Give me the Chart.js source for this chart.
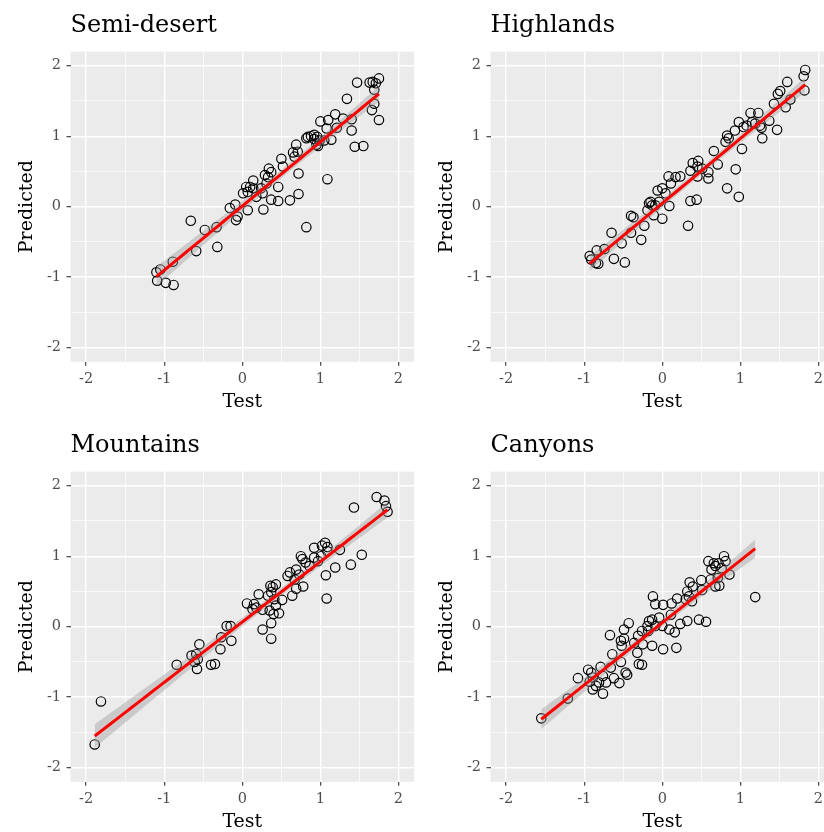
<!DOCTYPE html>
<html>
<head>
<meta charset="utf-8">
<script src="https://cdn.jsdelivr.net/npm/chart.js@4.4.1/dist/chart.umd.min.js"></script>
<style>
  html, body { margin: 0; padding: 0; background: #ffffff; }
  body { width: 824px; height: 832px; overflow: hidden; position: relative; }
  .panel { position: absolute; width: 420px; height: 420px; }
</style>
</head>
<body>
<div class="panel" style="left:0;top:0"><canvas id="c1" width="420" height="420"></canvas></div>
<div class="panel" style="left:420px;top:0"><canvas id="c2" width="420" height="420"></canvas></div>
<div class="panel" style="left:0;top:420px"><canvas id="c3" width="420" height="420"></canvas></div>
<div class="panel" style="left:420px;top:420px"><canvas id="c4" width="420" height="420"></canvas></div>
<script>
// values: Test (x) and Predicted (y) per region
const semiDesertTest = [1.75, 1.63, 1.67, 1.71, 1.47, 1.69, 1.69, 1.66, 1.75, 1.34, 1.44, 1.55, 1.40, 1.40, 1.29, 1.19, 1.10, 1.00, 1.21, 1.08,
    1.14, 1.05, 1.09, 0.84, 0.88, 0.92, 0.96, 0.99, 0.95, 0.92, 0.82, 0.97, 0.69, 0.65, 0.71, 0.67, 0.50, 0.52, 0.72, 0.72,
    0.61, 0.46, 0.82, 0.46, 0.37, 0.27, 0.34, 0.37, 0.33, 0.29, 0.31, 0.24, 0.26, 0.14, 0.10, 0.07, 0.05, 0.01, 0.14, 0.18,
    0.07, -0.09, -0.16, -0.06, -0.08, -0.33, -0.48, -0.66, -0.59, -0.32, -0.89, -1.10, -1.05, -1.09, -0.98, -0.88];
const semiDesertPred = [1.82, 1.76, 1.77, 1.75, 1.76, 1.66, 1.46, 1.37, 1.23, 1.53, 0.85, 0.86, 1.08, 1.24, 1.25, 1.31, 1.23, 1.21, 1.12, 1.11,
    0.95, 0.94, 0.39, 0.99, 1.00, 1.02, 0.99, 0.94, 0.88, 0.96, 0.97, 0.86, 0.88, 0.77, 0.78, 0.71, 0.68, 0.57, 0.47, 0.18,
    0.09, 0.08, -0.29, 0.28, 0.10, -0.04, 0.54, 0.49, 0.42, 0.45, 0.33, 0.26, 0.19, 0.37, 0.28, 0.21, 0.28, 0.19, 0.26, 0.14,
    -0.05, 0.03, -0.02, -0.14, -0.19, -0.29, -0.33, -0.20, -0.63, -0.57, -0.78, -0.93, -0.89, -1.05, -1.08, -1.11];

const highlandsTest = [1.83, 1.81, 1.82, 1.60, 1.51, 1.48, 1.43, 1.64, 1.58, 1.47, 1.37, 1.28, 1.23, 1.13, 1.15, 1.08, 1.04, 1.19, 1.25, 1.27,
    0.98, 0.93, 0.83, 0.85, 0.81, 1.02, 0.94, 0.98, 0.83, 0.66, 0.71, 0.59, 0.59, 0.46, 0.39, 0.45, 0.36, 0.51, 0.45, 0.23,
    0.17, 0.08, 0.11, 0.00, -0.06, 0.04, 0.09, -0.15, -0.17, -0.13, -0.09, -0.04, -0.19, -0.11, 0.00, 0.33, 0.36, 0.44, -0.40, -0.37,
    -0.23, -0.40, -0.27, -0.65, -0.52, -0.74, -0.84, -0.93, -0.91, -0.85, -0.82, -0.62, -0.48];
const highlandsPred = [1.94, 1.85, 1.65, 1.77, 1.64, 1.60, 1.46, 1.52, 1.41, 1.09, 1.22, 0.97, 1.33, 1.33, 1.20, 1.15, 1.13, 1.18, 1.15, 1.12,
    1.20, 1.08, 1.01, 0.97, 0.92, 0.82, 0.53, 0.14, 0.26, 0.79, 0.60, 0.49, 0.40, 0.65, 0.62, 0.57, 0.51, 0.54, 0.43, 0.43,
    0.42, 0.43, 0.33, 0.26, 0.23, 0.19, 0.01, 0.07, 0.05, 0.02, 0.02, 0.07, -0.05, -0.12, -0.17, -0.27, 0.08, 0.10, -0.13, -0.15,
    -0.27, -0.37, -0.47, -0.37, -0.52, -0.60, -0.62, -0.70, -0.75, -0.80, -0.81, -0.74, -0.79];

const mountainsTest = [1.72, 1.82, 1.84, 1.86, 1.43, 1.53, 1.39, 1.19, 1.25, 1.08, 1.07, 1.09, 1.06, 1.02, 1.09, 0.92, 1.01, 0.97, 0.92, 0.86,
    0.75, 0.77, 0.81, 0.69, 0.61, 0.58, 0.73, 0.67, 0.78, 0.69, 0.64, 0.51, 0.43, 0.39, 0.36, 0.37, 0.33, 0.41, 0.43, 0.47,
    0.40, 0.35, 0.21, 0.15, 0.18, 0.06, 0.13, 0.26, 0.37, 0.26, 0.37, -0.15, -0.20, -0.14, -0.27, -0.28, -0.35, -0.40, -0.55, -0.59,
    -0.57, -0.61, -0.58, -0.65, -0.84, -1.81, -1.89];
const mountainsPred = [1.84, 1.79, 1.71, 1.63, 1.69, 1.02, 0.88, 0.84, 1.09, 0.40, 0.73, 1.07, 1.19, 1.15, 1.13, 1.12, 1.00, 0.93, 0.98, 0.86,
    1.00, 0.96, 0.91, 0.81, 0.77, 0.72, 0.74, 0.67, 0.57, 0.54, 0.44, 0.38, 0.60, 0.56, 0.58, 0.49, 0.44, 0.39, 0.30, 0.19,
    0.18, 0.23, 0.46, 0.32, 0.27, 0.33, 0.25, 0.24, 0.05, -0.04, -0.17, 0.01, 0.01, -0.20, -0.15, -0.32, -0.53, -0.54, -0.25, -0.39,
    -0.46, -0.50, -0.60, -0.41, -0.54, -1.06, -1.67];

const canyonsTest = [-1.55, -1.21, -1.08, -0.95, -0.91, -0.89, -0.93, -0.89, -0.85, -0.81, -0.76, -0.76, -0.72, -0.62, -0.55, -0.45, -0.79, -0.66, -0.64, -0.53,
    -0.47, -0.52, -0.49, -0.67, -0.43, -0.49, -0.53, -0.36, -0.32, -0.30, -0.26, -0.25, -0.31, -0.26, -0.19, -0.17, -0.13, -0.18, -0.13, 0.01,
    0.18, -0.09, -0.04, 0.00, 0.09, 0.16, 0.23, 0.32, 0.47, 0.56, -0.12, -0.09, 0.01, 0.12, 0.19, 0.11, 0.34, 0.30, 0.38, 0.35,
    0.39, 0.32, 0.50, 0.51, 0.62, 0.63, 0.66, 0.68, 0.72, 0.76, 0.79, 0.81, 0.73, 0.71, 0.86, 0.68, 0.59, 1.19];
const canyonsPred = [-1.30, -1.02, -0.73, -0.61, -0.65, -0.72, -0.78, -0.89, -0.84, -0.79, -0.70, -0.95, -0.79, -0.73, -0.80, -0.68, -0.57, -0.58, -0.39, -0.50,
    -0.65, -0.27, -0.17, -0.12, 0.05, -0.04, -0.20, -0.23, -0.37, -0.53, -0.54, -0.25, -0.13, -0.06, 0.01, 0.08, 0.10, -0.06, -0.27, -0.32,
    -0.30, 0.01, 0.13, 0.01, -0.04, -0.08, 0.04, 0.08, 0.10, 0.07, 0.43, 0.32, 0.31, 0.33, 0.40, 0.17, 0.43, 0.39, 0.36, 0.63,
    0.57, 0.50, 0.66, 0.52, 0.67, 0.81, 0.90, 0.86, 0.90, 0.83, 1.00, 0.93, 0.58, 0.69, 0.74, 0.57, 0.93, 0.42];

const axisMin = -2.2;
const axisMax = 2.2;

// linear fit with 95% confidence band, like geom_smooth(method = "lm")
function fitLm(xs, ys) {
    const n = xs.length;
    const mx = xs.reduce((a, b) => a + b, 0) / n;
    const my = ys.reduce((a, b) => a + b, 0) / n;
    let sxx = 0, sxy = 0;
    for (let i = 0; i < n; i++) {
        sxx += (xs[i] - mx) * (xs[i] - mx);
        sxy += (xs[i] - mx) * (ys[i] - my);
    }
    const b = sxy / sxx;
    const a = my - b * mx;
    let sse = 0;
    for (let i = 0; i < n; i++) sse += Math.pow(ys[i] - a - b * xs[i], 2);
    const s = Math.sqrt(sse / (n - 2));
    const t = 1.96 + 2.5 / (n - 2);
    const lo = Math.min(...xs), hi = Math.max(...xs);
    const line = [], upper = [], lower = [];
    for (let k = 0; k <= 40; k++) {
        const x = lo + (hi - lo) * k / 40;
        const yhat = a + b * x;
        const se = s * Math.sqrt(1 / n + (x - mx) * (x - mx) / sxx);
        line.push({ x, y: yhat });
        upper.push({ x, y: yhat + t * se });
        lower.push({ x, y: yhat - t * se });
    }
    return { line, upper, lower };
}

const panelBg = {
    id: 'panelBg',
    beforeDraw(chart) {
        const { ctx, chartArea: a } = chart;
        ctx.save();
        ctx.fillStyle = '#EBEBEB';
        ctx.fillRect(a.left, a.top, a.right - a.left, a.bottom - a.top);
        ctx.restore();
    }
};

function axis(title, isX) {
    return {
        type: 'linear',
        min: axisMin,
        max: axisMax,
        border: { display: false },
        grid: {
            color: '#FFFFFF',
            lineWidth: c => Number.isInteger(c.tick.value) ? 1.4 : 0.7,
            tickColor: c => Number.isInteger(c.tick.value) ? '#333333' : 'rgba(0,0,0,0)',
            tickLength: 4,
            tickWidth: 1.1
        },
        ticks: {
            stepSize: 0.5,
            includeBounds: false,
            autoSkip: false,
            maxRotation: 0,
            padding: isX ? 4.6 : 5.5,
            color: '#4D4D4D',
            font: { family: 'DejaVu Serif', size: 14.5 },
            callback: v => Number.isInteger(v) ? String(v) : ''
        },
        title: {
            display: true,
            text: title,
            color: '#000000',
            font: { family: 'DejaVu Serif', size: 19 },
            padding: isX ? { top: 0, bottom: 6.9 } : { top: 16, bottom: 0 }
        },
        afterFit: s => {
            if (isX) s.height = 58.2;
            else s.width = 70.5;
        }
    };
}

function makePanel(id, title, xs, ys) {
    const fit = fitLm(xs, ys);
    const points = xs.map((x, i) => ({ x, y: ys[i] }));
    new Chart(document.getElementById(id), {
        type: 'scatter',
        data: {
            datasets: [
                {
                    data: fit.line,
                    showLine: true,
                    borderColor: '#FF0000',
                    borderWidth: 3,
                    pointRadius: 0,
                    fill: false
                },
                {
                    data: fit.upper,
                    showLine: true,
                    borderWidth: 0,
                    borderColor: 'rgba(0,0,0,0)',
                    pointRadius: 0,
                    backgroundColor: 'rgba(153,153,153,0.4)',
                    fill: '+1'
                },
                {
                    data: fit.lower,
                    showLine: true,
                    borderWidth: 0,
                    borderColor: 'rgba(0,0,0,0)',
                    pointRadius: 0,
                    fill: false
                },
                {
                    data: points,
                    pointRadius: 4.7,
                    borderWidth: 1.2,
                    borderColor: '#000000',
                    backgroundColor: 'rgba(0,0,0,0)'
                }
            ]
        },
        options: {
            responsive: false,
            animation: false,
            layout: { padding: { left: 0, right: 5.5, top: 0, bottom: 0 } },
            plugins: {
                legend: { display: false },
                tooltip: { enabled: false },
                title: {
                    display: true,
                    text: title,
                    align: 'start',
                    fullSize: false,
                    color: '#000000',
                    font: { family: 'DejaVu Serif', size: 24, weight: 'normal' },
                    padding: { top: 11.2, bottom: 11.6 }
                }
            },
            scales: {
                x: axis('Test', true),
                y: axis('Predicted', false)
            }
        },
        plugins: [panelBg]
    });
}

makePanel('c1', 'Semi-desert', semiDesertTest, semiDesertPred);
makePanel('c2', 'Highlands', highlandsTest, highlandsPred);
makePanel('c3', 'Mountains', mountainsTest, mountainsPred);
makePanel('c4', 'Canyons', canyonsTest, canyonsPred);
</script>
</body>
</html>
